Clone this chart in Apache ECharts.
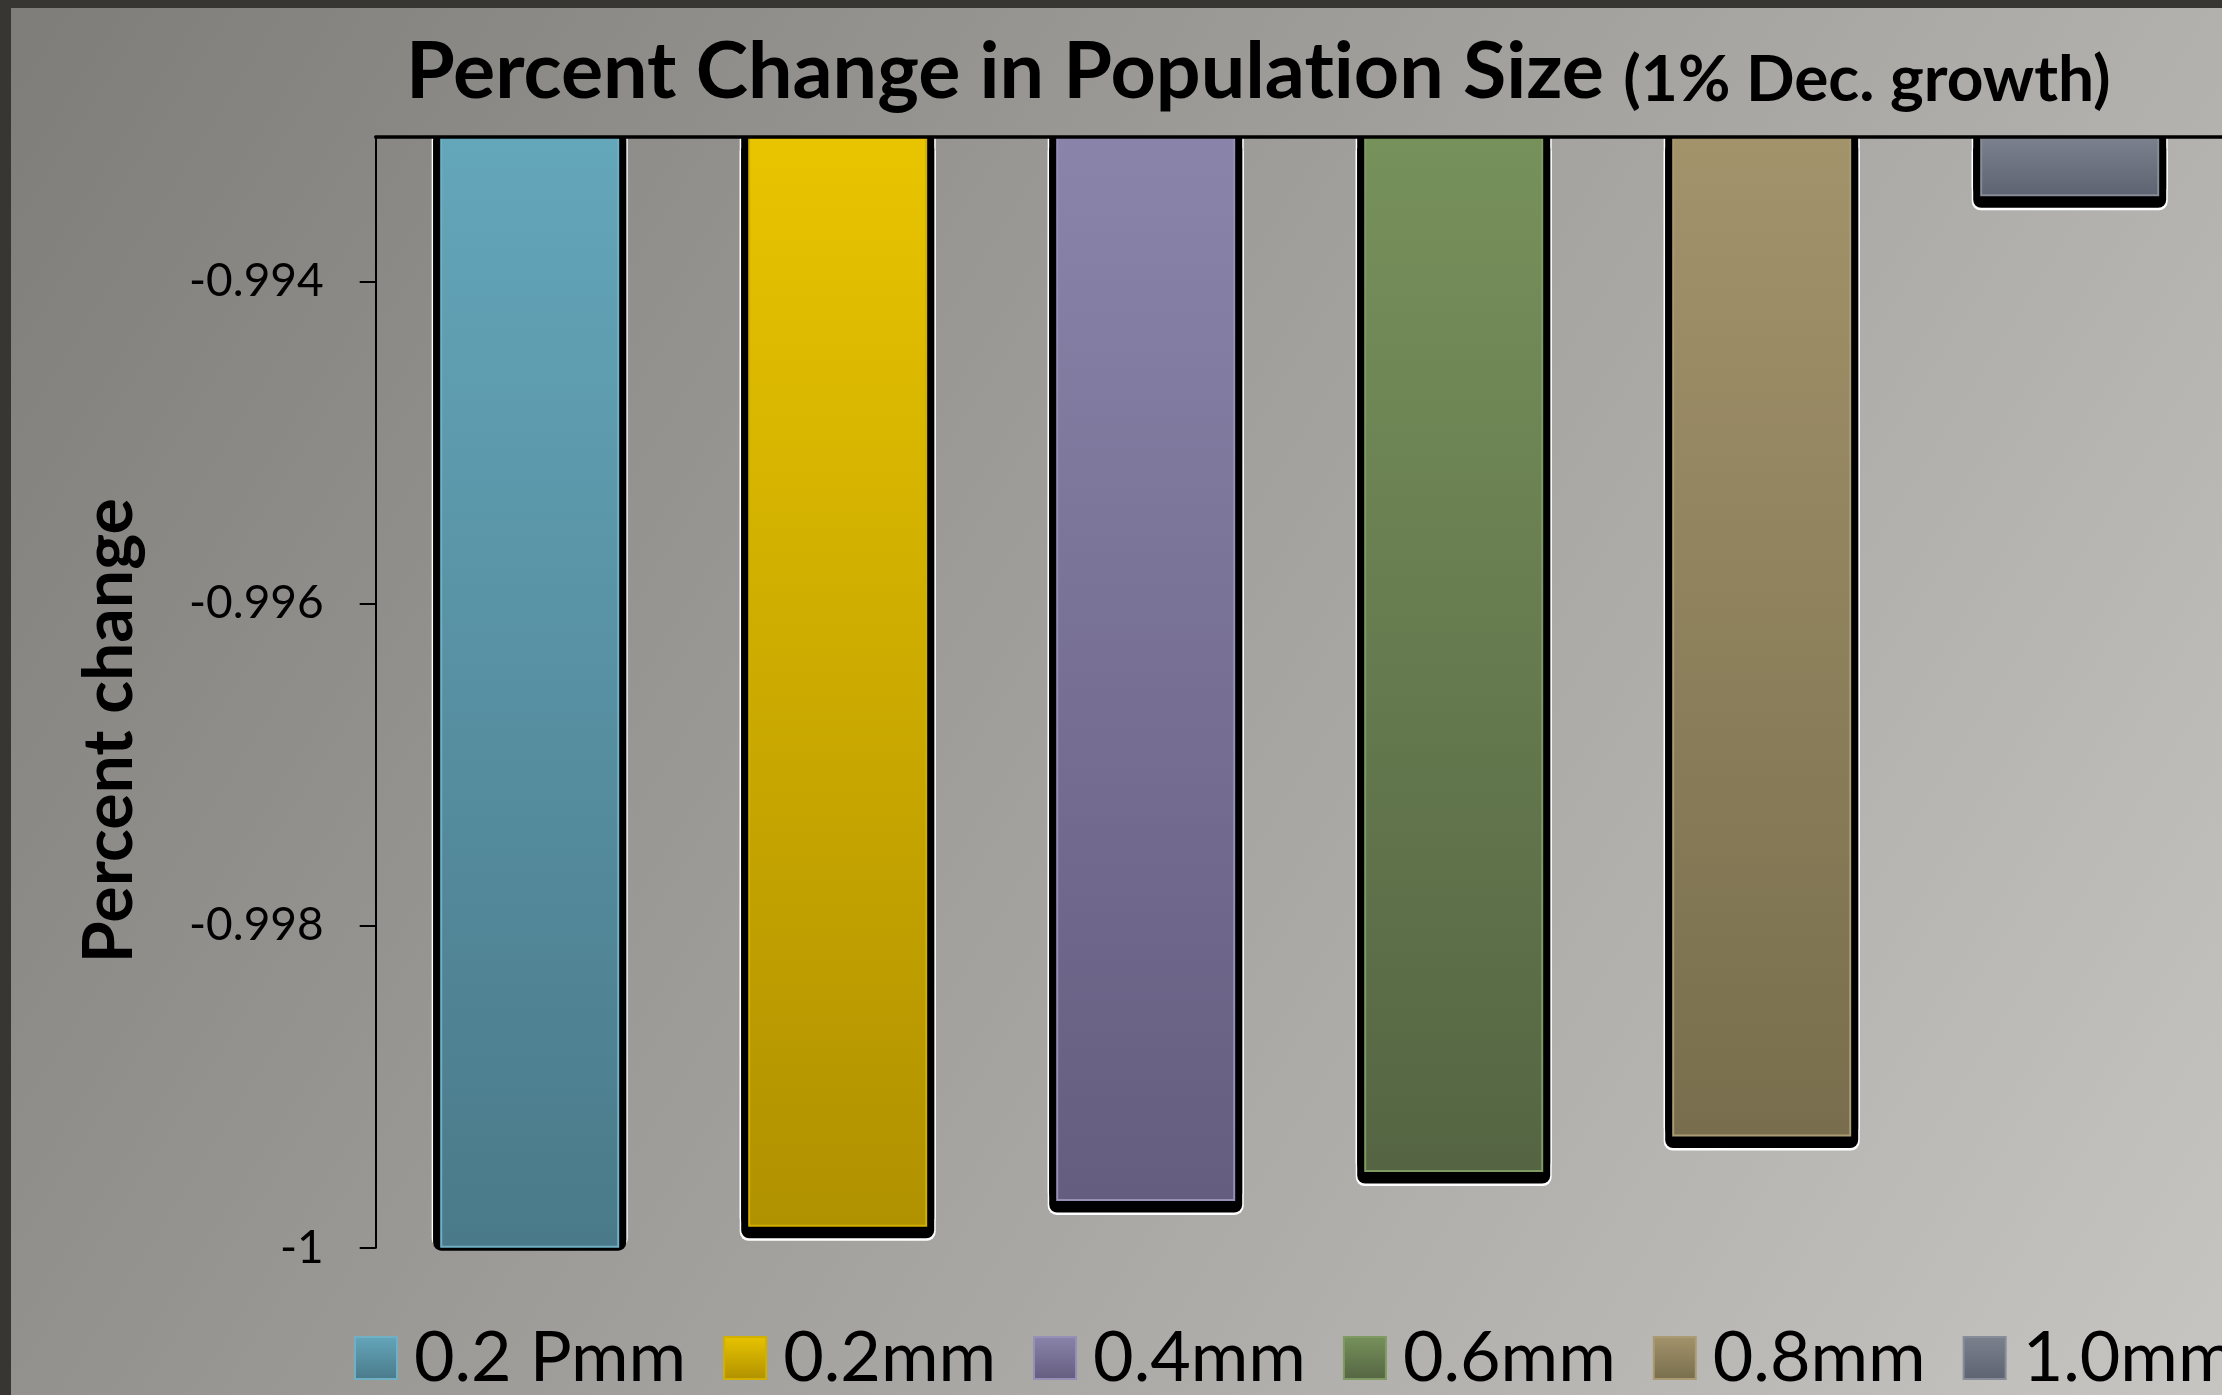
<!DOCTYPE html>
<html>
<head>
<meta charset="utf-8">
<script src="https://cdn.jsdelivr.net/npm/echarts@6/dist/echarts.min.js"></script>
<style>
  html, body { margin: 0; padding: 0; width: 2222px; height: 1395px; overflow: hidden; background: #383633; }
  #chart { position: absolute; left: 11px; top: 8px; width: 2211px; height: 1387px; }
</style>
</head>
<body>
<div id="chart"></div>
<script>
// ---- data ----
const categories = ['0.2 Pmm', '0.2mm', '0.4mm', '0.6mm', '0.8mm', '1.0mm'];
const percentChange = [-1.0, -0.99987, -0.99971, -0.99953, -0.99931, -0.99347];
const yTicks = [-1, -0.998, -0.996, -0.994];
const axisMin = -1;
const axisMax = -0.9931;

// ---- styles ----
const topColors = ['#64a6ba', '#e8c400', '#8a84aa', '#77915b', '#a3936b', '#7b818d'];
const bottomColors = ['#4a7a8a', '#b09100', '#655d80', '#556543', '#786e4d', '#5d6370'];
const edgeColors = ['#6fb0c4', '#d2b000', '#9690b6', '#7f9a63', '#ab9b74', '#868c98'];

const chart = echarts.init(document.getElementById('chart'), null, { renderer: 'canvas' });

const grad = (i) => ({
  type: 'linear', x: 0, y: 0, x2: 0, y2: 1,
  colorStops: [{ offset: 0, color: topColors[i] }, { offset: 1, color: bottomColors[i] }]
});

// outline layers (white rim, black frame with drop) drawn from the same values
const whiteLayer = {
  name: 'rim', type: 'bar', xAxisIndex: 2, barWidth: 196, clip: true, z: 1,
  data: percentChange.map(v => ({
    value: v,
    itemStyle: { shadowOffsetY: v <= axisMin ? 0 : 14 }
  })),
  itemStyle: { color: '#ffffff', borderRadius: [0, 0, 9, 9], shadowColor: '#ffffff', shadowBlur: 0 },
  emphasis: { disabled: true }, tooltip: { show: false }
};
const blackLayer = {
  name: 'frame', type: 'bar', xAxisIndex: 1, barWidth: 193, clip: true, z: 1.5,
  data: percentChange.map(v => ({
    value: v,
    itemStyle: { shadowOffsetY: v <= axisMin ? 3 : 11.5 }
  })),
  itemStyle: { color: '#000000', borderRadius: [0, 0, 8, 8], shadowColor: '#000000', shadowBlur: 0 },
  emphasis: { disabled: true }, tooltip: { show: false }
};

const colorSeries = categories.map((name, i) => ({
  name: name,
  type: 'bar',
  xAxisIndex: 0,
  barWidth: 179,
  barGap: '-100%',
  clip: true,
  z: 2,
  data: categories.map((c, j) => (j === i ? percentChange[i] : '-')),
  itemStyle: { color: grad(i), borderColor: edgeColors[i], borderWidth: 2 },
  emphasis: { disabled: true }
}));

const hiddenCat = {
  type: 'category', position: 'top', data: categories, show: false,
  axisLine: { show: false }, axisTick: { show: false }, axisLabel: { show: false }, splitLine: { show: false }
};

const option = {
  animation: false,
  backgroundColor: {
    type: 'linear', x: 0, y: 0, x2: 1, y2: 1,
    colorStops: [{ offset: 0, color: '#7e7d7a' }, { offset: 1, color: '#c6c5c2' }]
  },
  title: {
    text: '{a|Percent Change in Populat\u200Cion Size }{b|(1% Dec. growth)}',
    left: 390,
    top: 20,
    textStyle: {
      rich: {
        a: { fontFamily: 'Lato', fontWeight: 'bold', fontSize: 79, color: '#000', verticalAlign: 'bottom' },
        b: { fontFamily: 'Lato', fontWeight: 'bold', fontSize: 64, color: '#000', verticalAlign: 'bottom' }
      }
    }
  },
  grid: { left: 364.7, top: 128.7, width: 1848, height: 1111, containLabel: false, outerBoundsMode: 'none' },
  legend: {
    left: 343,
    top: 1315,
    width: 2600,
    padding: 0,
    itemWidth: 42,
    itemHeight: 42,
    itemGap: 37,
    icon: 'rect',
    itemStyle: { borderWidth: 2 },
    textStyle: { fontFamily: 'Lato', fontSize: 70, color: '#000', padding: [0, 0, 0, 12] },
    data: categories
  },
  xAxis: [
    {
      type: 'category',
      position: 'top',
      data: categories,
      z: 10,
      axisLine: { show: true, lineStyle: { color: '#000', width: 3.5 } },
      axisTick: { show: false },
      axisLabel: { show: false },
      splitLine: { show: false }
    },
    hiddenCat,
    Object.assign({}, hiddenCat)
  ],
  yAxis: {
    type: 'value',
    min: axisMin,
    max: axisMax,
    startValue: axisMax,
    interval: 0.002,
    name: 'Percent change',
    nameLocation: 'middle',
    nameRotate: 90,
    nameGap: 232,
    nameTextStyle: { fontFamily: 'Lato', fontWeight: 'bold', fontSize: 68, color: '#000', padding: [0, 77, 0, 0] },
    axisLine: { show: true, onZero: false, lineStyle: { color: '#000', width: 2 } },
    axisTick: { show: true, length: 16, lineStyle: { color: '#000', width: 2 }, customValues: yTicks },
    axisLabel: {
      show: true,
      margin: 52,
      fontFamily: 'Lato',
      fontSize: 46,
      color: '#000',
      customValues: yTicks,
      formatter: v => String(Math.round(v * 1000) / 1000)
    },
    splitLine: { show: false }
  },
  series: [whiteLayer, blackLayer].concat(colorSeries)
};

chart.setOption(option);
</script>
</body>
</html>
